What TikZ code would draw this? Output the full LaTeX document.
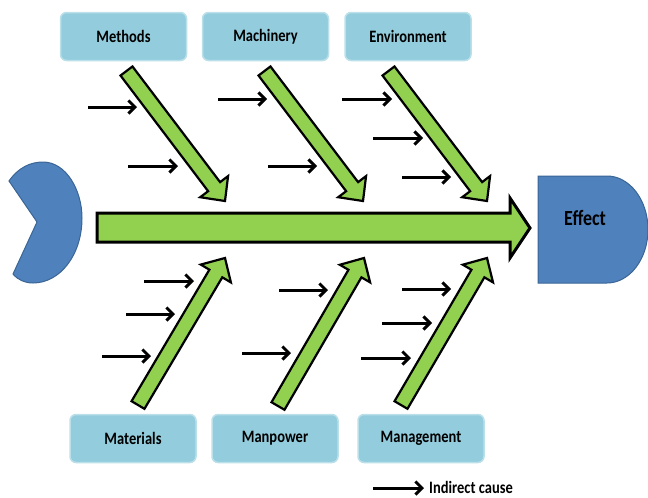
\documentclass[tikz,border=0pt]{standalone}
\usepackage{fontspec}
\usepackage{graphicx}
\setmainfont{Carlito}
\usetikzlibrary{calc,arrows.meta}
\definecolor{boxfill}{HTML}{93CDDD}
\definecolor{boxedge}{HTML}{BCE0E9}
\definecolor{bonegreen}{HTML}{92D050}
\definecolor{fishblue}{HTML}{4F81BD}
\definecolor{fishedge}{HTML}{3A6595}
\newcommand\tl[1]{\scalebox{1}[1.2]{#1}}
\newcommand\fishbone[2]{%
  \coordinate (bS) at (#1); \coordinate (bT) at (#2);
  \coordinate (bB) at ($(bT)!18pt!(bS)$);
  \filldraw[bonestyle] ($(bS)!7.5pt!90:(bB)$) -- ($(bB)!7.5pt!-90:(bS)$) -- ($(bB)!17.5pt!-90:(bS)$) -- (bT) -- ($(bB)!17.5pt!90:(bS)$) -- ($(bB)!7.5pt!90:(bS)$) -- ($(bS)!7.5pt!-90:(bB)$) -- cycle;}
\newcommand\causearrow[4]{%
  \coordinate (#1a) at (#2,#4); \coordinate (#1b) at (#3,#4);
  \draw[cause] (#1a) -- (#1b);}
\begin{document}
\begin{tikzpicture}[x=1pt,y=-1pt,
  catbox/.style={draw=boxedge, line width=1.5pt, fill=boxfill, rounded corners=6pt,
    minimum width=126pt, minimum height=48pt, inner sep=0pt,
    font=\fontsize{14.5}{17}\selectfont\bfseries},
  bonestyle/.style={fill=bonegreen, draw=black, line width=2.2pt, line join=miter},
  cause/.style={line width=3pt, -{Straight Barb[length=6.5pt,width=13pt]}}]
\useasboundingbox (0,0) rectangle (648,498);

% fish tail
\path[fill=fishblue, draw=fishedge, line width=1pt] (9,181) .. controls (18,168) and (30,162) .. (43,162)
  .. controls (66,162) and (82,190) .. (82,218)
  .. controls (82,255) and (60,283) .. (33,283)
  .. controls (25,283) and (18,280) .. (13,274) -- (37,222) -- cycle;
\coordinate (tail) at (82,218);

% effect head
\path[fill=fishblue, draw=fishedge, line width=1pt] (538,176) -- (607,176)
  .. controls (629.6,176) and (648,200) .. (648,229.5)
  .. controls (648,259) and (629.6,283) .. (607,283) -- (538,283) -- cycle;
\node[font=\fontsize{18}{20}\selectfont\bfseries] (effect) at (585,218) {\tl{Effect}};

% spine
\filldraw[fill=bonegreen, draw=black, line width=3pt, line join=miter]
  (97,213) -- (510,213) -- (510,198) -- (530,228) -- (510,258) -- (510,242) -- (97,242) -- cycle;

% category boxes
\node[catbox] (methods) at (123.5,36.5) {\tl{Methods}};
\node[catbox] (machinery) at (265.5,36.5) {\tl{Machinery}};
\node[catbox] (environment) at (408,36.5) {\tl{Environment}};
\node[catbox] (materials) at (133,438.5) {\tl{Materials}};
\node[catbox] (manpower) at (275,438.5) {\tl{Manpower}};
\node[catbox] (management) at (421,438.5) {\tl{Management}};

% bones
\coordinate (mS) at (126.5,71);  \coordinate (mT) at (225,201);
\coordinate (cS) at (264.5,71);  \coordinate (cT) at (363,201);
\coordinate (eS) at (388.5,71);  \coordinate (eT) at (487,201);
\coordinate (aS) at (138,405);   \coordinate (aT) at (225,258);
\coordinate (pS) at (278,406);   \coordinate (pT) at (364,258);
\coordinate (gS) at (401,405);   \coordinate (gT) at (487,258);
\fishbone{mS}{mT}
\fishbone{cS}{cT}
\fishbone{eS}{eT}
\fishbone{aS}{aT}
\fishbone{pS}{pT}
\fishbone{gS}{gT}

% indirect causes
\causearrow{m1}{88}{137}{107}
\causearrow{m2}{128}{178}{166}
\causearrow{c1}{218}{267}{99}
\causearrow{c2}{268}{317}{166}
\causearrow{e1}{342}{392}{99}
\causearrow{e2}{373}{423}{138}
\causearrow{e3}{402}{451}{177}
\causearrow{a1}{144}{194}{281}
\causearrow{a2}{126}{175}{314}
\causearrow{a3}{102}{151}{356}
\causearrow{p1}{279}{328}{290}
\causearrow{p2}{242}{291}{353}
\causearrow{g1}{402}{451}{289}
\causearrow{g2}{382}{432}{323}
\causearrow{g3}{361}{411}{358}

% legend
\causearrow{l}{373}{424}{488}
\node[anchor=west, inner sep=0pt, font=\fontsize{14.5}{17}\selectfont\bfseries] (legend) at (429,487) {\tl{Indirect cause}};
\end{tikzpicture}
\end{document}
